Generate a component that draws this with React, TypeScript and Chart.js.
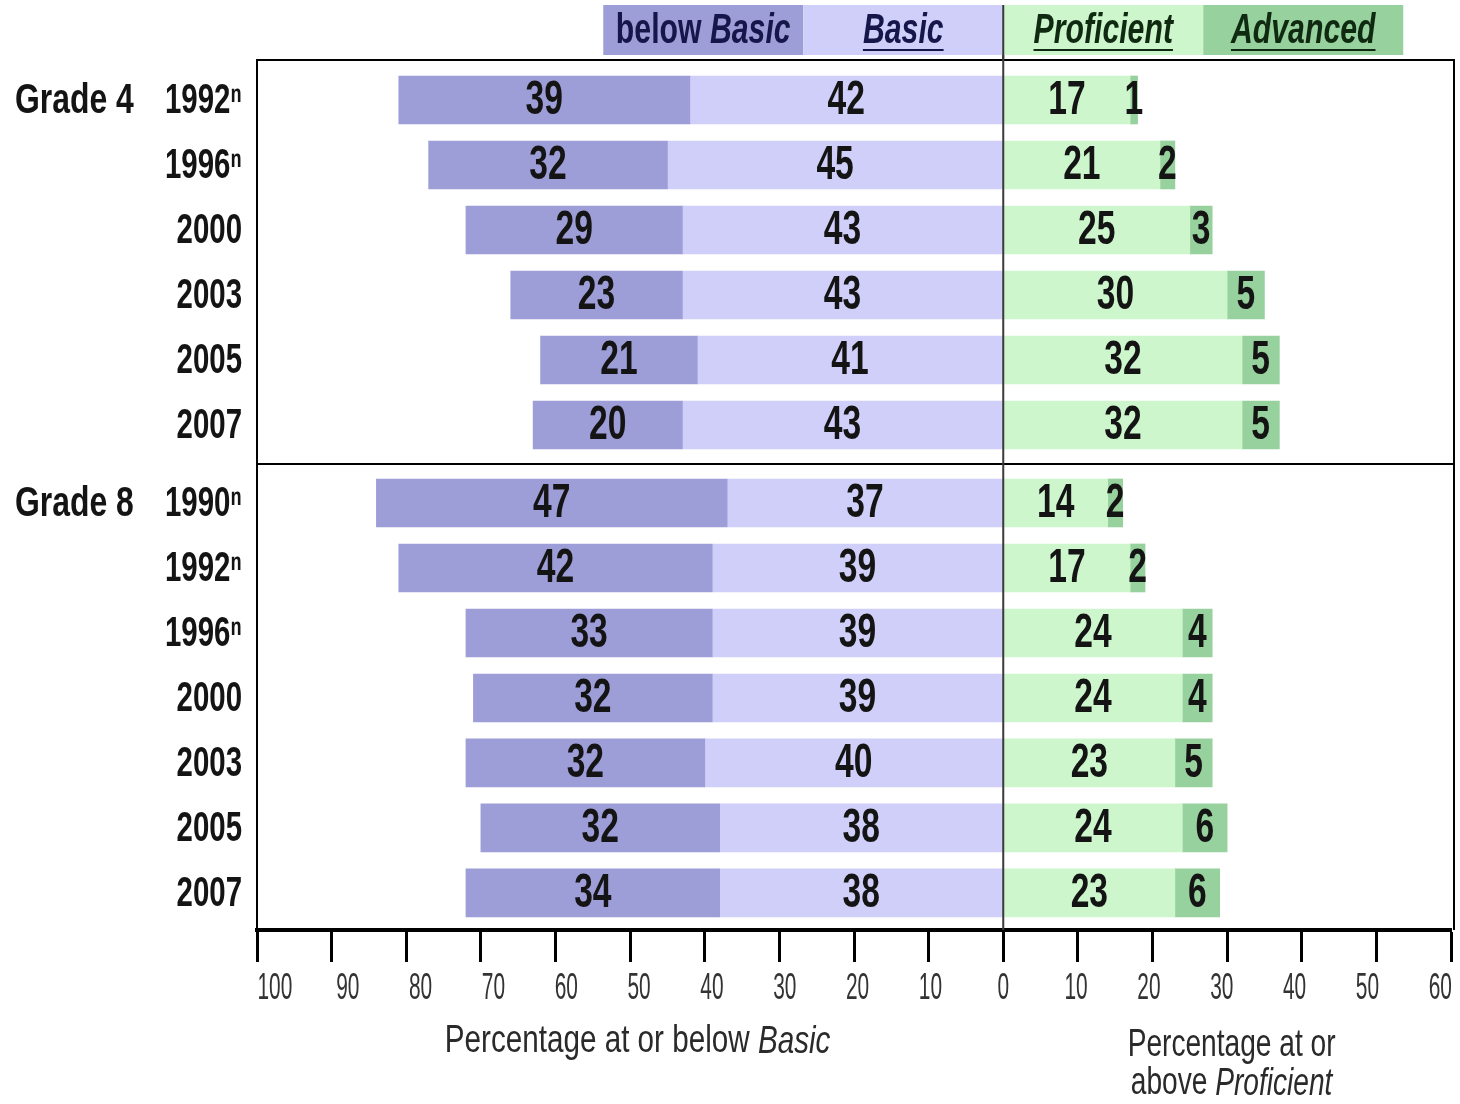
import React, { useEffect, useRef } from "react";
import { Chart, registerables } from "chart.js";

Chart.register(...registerables);

// ---------------- data ----------------
const grades = ["Grade 4", "Grade 8"];
const gradeOfRow = [0, 0, 0, 0, 0, 0, 1, 1, 1, 1, 1, 1, 1];
const years = ["1992ⁿ", "1996ⁿ", "2000", "2003", "2005", "2007", "1990ⁿ", "1992ⁿ", "1996ⁿ", "2000", "2003", "2005", "2007"];
const belowBasic = [39, 32, 29, 23, 21, 20, 47, 42, 33, 32, 32, 32, 34];
const basic = [42, 45, 43, 43, 41, 43, 37, 39, 39, 39, 40, 38, 38];
const proficient = [17, 21, 25, 30, 32, 32, 14, 17, 24, 24, 23, 24, 23];
const advanced = [1, 2, 3, 5, 5, 5, 2, 2, 4, 4, 5, 6, 6];
const levelNames = ["below Basic", "Basic", "Proficient", "Advanced"];
const xMin = -100;
const xMax = 60;
const xStep = 10;
const leftTitle = ["Percentage at or below ", "Basic"];
const rightTitle1 = "Percentage at or";
const rightTitle2 = ["above ", "Proficient"];

// ---------------- styling ----------------
const COLORS = ["#9d9dd8", "#cfcff9", "#cdf6cd", "#97d19d"];
const FONT = "'Liberation Sans', Arial, sans-serif";
const GROUP_GAP = 0.2;
const rowPos = (i: number) => i + gradeOfRow[i] * GROUP_GAP;
const SEPARATOR = 5.6;

type Part = { t: string; italic?: boolean };

function drawParts(
  ctx: CanvasRenderingContext2D,
  parts: Part[],
  x: number,
  y: number,
  o: { size: number; bold?: boolean; scaleX?: number; color: string; align: "left" | "center" | "right"; underline?: number }
) {
  const sx = o.scaleX ?? 1;
  const fontFor = (p: Part) => `${p.italic ? "italic " : ""}${o.bold ? "bold " : ""}${o.size}px ${FONT}`;
  ctx.save();
  let total = 0;
  const widths = parts.map((p) => {
    ctx.font = fontFor(p);
    const w = ctx.measureText(p.t).width;
    total += w;
    return w;
  });
  let start = x;
  if (o.align === "center") start = x - (total * sx) / 2;
  else if (o.align === "right") start = x - total * sx;
  ctx.translate(start, y);
  ctx.scale(sx, 1);
  ctx.fillStyle = o.color;
  ctx.textBaseline = "middle";
  ctx.textAlign = "left";
  let cx = 0;
  parts.forEach((p, k) => {
    ctx.font = fontFor(p);
    ctx.fillText(p.t, cx, 0);
    cx += widths[k];
  });
  if (o.underline) {
    ctx.strokeStyle = o.color;
    ctx.lineWidth = 2;
    ctx.beginPath();
    ctx.moveTo(0, o.underline);
    ctx.lineTo(total, o.underline);
    ctx.stroke();
  }
  ctx.restore();
}

const overlay = {
  id: "overlay",
  afterDatasetsDraw(chart: any) {
    const { ctx, chartArea: a, scales } = chart;
    const x = scales.x;
    const y = scales.y;
    const series = [belowBasic, basic, proficient, advanced];
    chart.data.datasets.forEach((_: any, di: number) => {
      const meta = chart.getDatasetMeta(di);
      meta.data.forEach((bar: any, i: number) => {
        const cx = (bar.x + bar.base) / 2;
        drawParts(ctx, [{ t: String(series[di][i]) }], cx, bar.y + 1, {
          size: 48,
          bold: true,
          scaleX: 0.7,
          color: "#141414",
          align: "center",
        });
      });
    });
    ctx.save();
    ctx.strokeStyle = "#000";
    ctx.lineWidth = 2;
    ctx.beginPath();
    ctx.moveTo(a.left - 1, a.top);
    ctx.lineTo(a.right + 3, a.top);
    ctx.lineTo(a.right + 3, a.bottom);
    ctx.stroke();
    const sy = y.getPixelForValue(SEPARATOR);
    ctx.beginPath();
    ctx.moveTo(a.left, sy);
    ctx.lineTo(a.right + 3, sy);
    ctx.stroke();
    const zx = x.getPixelForValue(0);
    ctx.strokeStyle = "#3a3a3a";
    ctx.lineWidth = 2;
    ctx.beginPath();
    ctx.moveTo(zx, 5);
    ctx.lineTo(zx, a.bottom);
    ctx.stroke();
    ctx.restore();
  },
  afterDraw(chart: any) {
    const { ctx, chartArea: a, scales } = chart;
    const x = scales.x;
    const y = scales.y;
    // legend header
    const segW = 26.8;
    const edges = [-2 * segW, -segW, 0, segW, 2 * segW];
    const textColors = ["#16164a", "#16164a", "#0f2a10", "#0f2a10"];
    levelNames.forEach((name, k) => {
      const x0 = x.getPixelForValue(edges[k]);
      const x1 = x.getPixelForValue(edges[k + 1]);
      ctx.fillStyle = COLORS[k];
      ctx.fillRect(x0, 5, x1 - x0, 50);
      const parts: Part[] = k === 0 ? [{ t: "below " }, { t: "Basic", italic: true }] : [{ t: name, italic: true }];
      drawParts(ctx, parts, (x0 + x1) / 2, 31, {
        size: 42,
        bold: true,
        scaleX: 0.72,
        color: textColors[k],
        align: "center",
        underline: k === 0 ? 0 : 19,
      });
    });
    ctx.save();
    ctx.strokeStyle = "#3a3a3a";
    ctx.lineWidth = 2;
    const zx = x.getPixelForValue(0);
    ctx.beginPath();
    ctx.moveTo(zx, 5);
    ctx.lineTo(zx, a.top);
    ctx.stroke();
    ctx.restore();
    // y tick labels (years) from the y scale's ticks
    y.ticks.forEach((t: any, i: number) => {
      drawParts(ctx, [{ t: years[i] }], 242, y.getPixelForValue(t.value) + 1, {
        size: 42,
        bold: true,
        scaleX: 0.7,
        color: "#141414",
        align: "right",
      });
    });
    // grade labels
    grades.forEach((g, gi) => {
      const first = gradeOfRow.indexOf(gi);
      const py = y.getPixelForValue(rowPos(first)) + 1;
      drawParts(ctx, [{ t: g }], 15, py, { size: 42, bold: true, scaleX: 0.76, color: "#141414", align: "left" });
    });
    // x tick labels from the x scale's ticks
    x.ticks.forEach((t: any) => {
      const px = x.getPixelForValue(t.value);
      const lx = zx + (px - zx) * 0.976;
      drawParts(ctx, [{ t: String(Math.abs(t.value)) }], lx, 989, {
        size: 36,
        scaleX: 0.58,
        color: "#333",
        align: "center",
      });
    });
    // axis titles
    drawParts(ctx, [{ t: leftTitle[0] }, { t: leftTitle[1], italic: true }], x.getPixelForValue(-49), 1042, {
      size: 38,
      color: "#2a2a2a",
      align: "center",
      scaleX: 0.78,
    });
    drawParts(ctx, [{ t: rightTitle1 }], x.getPixelForValue(30.6), 1046, {
      size: 38,
      color: "#2a2a2a",
      align: "center",
      scaleX: 0.74,
    });
    drawParts(ctx, [{ t: rightTitle2[0] }, { t: rightTitle2[1], italic: true }], x.getPixelForValue(30.6), 1084, {
      size: 38,
      color: "#2a2a2a",
      align: "center",
      scaleX: 0.74,
    });
  },
};

function buildConfig(): any {
  const mk = (label: string, color: string, f: (i: number) => [number, number]) => ({
    label,
    backgroundColor: color,
    borderWidth: 0,
    barThickness: 48,
    grouped: false,
    data: years.map((_, i) => ({ y: rowPos(i), x: f(i) })),
  });
  return {
    type: "bar",
    data: {
      datasets: [
        mk(levelNames[0], COLORS[0], (i) => [-(basic[i] + belowBasic[i]), -basic[i]]),
        mk(levelNames[1], COLORS[1], (i) => [-basic[i], 0]),
        mk(levelNames[2], COLORS[2], (i) => [0, proficient[i]]),
        mk(levelNames[3], COLORS[3], (i) => [proficient[i], proficient[i] + advanced[i]]),
      ],
    },
    options: {
      indexAxis: "y",
      responsive: false,
      animation: false,
      devicePixelRatio: 1,
      layout: { padding: { top: 60, right: 9, left: 0, bottom: 0 } },
      plugins: { legend: { display: false }, tooltip: { enabled: false } },
      scales: {
        x: {
          type: "linear",
          min: xMin,
          max: xMax,
          offset: false,
          afterFit: (s: any) => {
            s.height = 174;
          },
          ticks: {
            display: false,
            stepSize: xStep,
            autoSkip: false,
            maxRotation: 0,
          },
          grid: {
            drawOnChartArea: false,
            drawTicks: true,
            tickLength: 32,
            tickWidth: 3,
            tickColor: "#000",
            color: "#000",
          },
          border: { display: true, color: "#000", width: 4 },
        },
        y: {
          type: "linear",
          reverse: true,
          offset: false,
          min: -0.615,
          max: 12.77,
          afterFit: (s: any) => {
            s.width = 257;
          },
          afterBuildTicks: (s: any) => {
            s.ticks = years.map((_, i) => ({ value: rowPos(i) }));
          },
          ticks: {
            display: false,
            autoSkip: false,
            callback: (_v: number, i: number) => years[i],
          },
          grid: { display: false, drawTicks: false, offset: false },
          border: { display: true, color: "#000", width: 2 },
        },
      },
    },
    plugins: [overlay],
  };
}

export default function App() {
  const ref = useRef<HTMLCanvasElement>(null);
  useEffect(() => {
    if (!ref.current) return;
    const chart = new Chart(ref.current, buildConfig());
    return () => chart.destroy();
  }, []);
  return (
    <div style={{ position: "absolute", left: 0, top: 0, width: 1460, height: 1104, background: "#fff" }}>
      <canvas ref={ref} width={1460} height={1104} style={{ width: 1460, height: 1104, display: "block" }} />
    </div>
  );
}
